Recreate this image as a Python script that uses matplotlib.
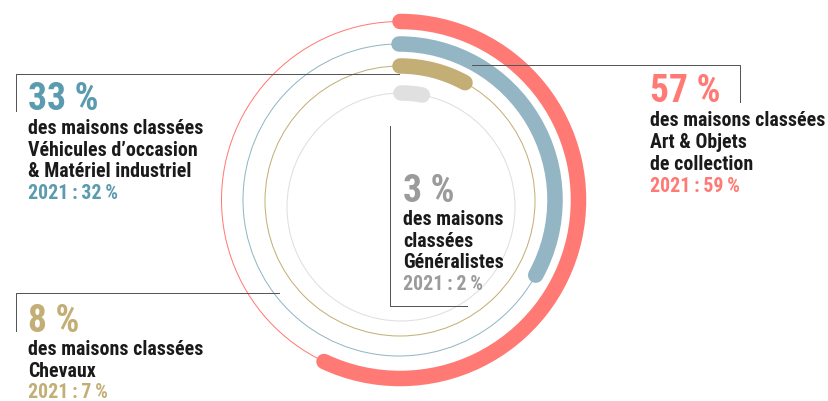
import matplotlib
matplotlib.use("Agg")
import matplotlib.pyplot as plt
from matplotlib.patches import Arc, Circle
from matplotlib import font_manager

# ---------------- data ----------------
categories = ["Art & Objets\nde collection",
              "Véhicules d’occasion\n& Matériel industriel",
              "Chevaux",
              "Généralistes"]
values_2022 = [57, 33, 8, 3]
values_2021 = [59, 32, 7, 2]

ring_colors = ["#FF7A74", "#93B5C4", "#C3AE76", "#E0E0E0"]
thin_colors = ["#FF7A74", "#93B5C4", "#C3AE76", "#DEDEDE"]
text_colors = ["#FF7A74", "#5B9BAF", "#C3AE76", "#9B9B9B"]

# ---------------- fonts ----------------
names = {f.name for f in font_manager.fontManager.ttflist}
FAM = [n for n in ["Roboto Condensed", "PT Sans Narrow", "Barlow Condensed"] if n in names][:1] + ["DejaVu Sans"]

W, H = 829, 402
fig = plt.figure(figsize=(W / 100, H / 100), dpi=100)
ax = fig.add_axes([0, 0, 1, 1])
ax.set_xlim(0, W)
ax.set_ylim(0, H)
ax.axis("off")

def Y(y):
    return H - y

PX = 72 / 100  # points per pixel

# ring geometry (pixels): centre & radius per ring
centres = [(400, 201), (399, 201), (400, 202), (401, 208)]
radii = [178.5, 156, 135, 114]

for i, v in enumerate(values_2022):
    cx, cy = centres[i]
    r = radii[i]
    ax.add_patch(Circle((cx, Y(cy)), r, fill=False, ec=thin_colors[i],
                        lw=1.0 * PX, zorder=1))
    arc = Arc((cx, Y(cy)), 2 * r, 2 * r, theta1=90 - 3.6 * v, theta2=90,
              ec=ring_colors[i], lw=15.5 * PX, zorder=2)
    arc.set_capstyle("round")
    ax.add_patch(arc)

# ---------------- leader lines ----------------
LC = "#555555"
LW = 1.0 * PX
ax.plot([472, 740, 740], [Y(66), Y(66), Y(103)], color=LC, lw=LW, zorder=3)
ax.plot([399, 16, 16], [Y(74.5), Y(74.5), Y(112)], color=LC, lw=LW, zorder=3)
ax.plot([279, 16, 16], [Y(294), Y(294), Y(332)], color=LC, lw=LW, zorder=3)
ax.plot([390, 390, 467], [Y(127), Y(307), Y(307)], color=LC, lw=LW, zorder=3)

# ---------------- texts ----------------
BIG = 27
BODY = 14.3
DARK = "#1A1A1A"
TS = "\u2009"

def block(x, y_big, lines, y_lines, y_year, i):
    ax.text(x, Y(y_big), f"{values_2022[i]} %", family=FAM,
            fontsize=BIG, fontweight="bold", color=text_colors[i], va="baseline", ha="left")
    for ln, yy in zip(lines, y_lines):
        ax.text(x, Y(yy), ln, family=FAM, fontsize=BODY,
                fontweight="bold", color=DARK, va="baseline", ha="left")
    ax.text(x, Y(y_year), f"2021{TS}:{TS}{values_2021[i]}{TS}%", family=FAM,
            fontsize=BODY, fontweight="bold",
            color=text_colors[i], va="baseline", ha="left")

def lines_for(i, first):
    return first + categories[i].split("\n")

block(650, 102, lines_for(0, ["des maisons classées"]), [126, 148, 170], 192, 0)
block(28, 110.5, lines_for(1, ["des maisons classées"]), [134, 156, 177], 199, 1)
block(28, 332, lines_for(2, ["des maisons classées"]), [355, 377], 398, 2)
block(403, 202, lines_for(3, ["des maisons", "classées"]), [225, 247, 268], 290, 3)

fig.savefig("out.png", dpi=100)
